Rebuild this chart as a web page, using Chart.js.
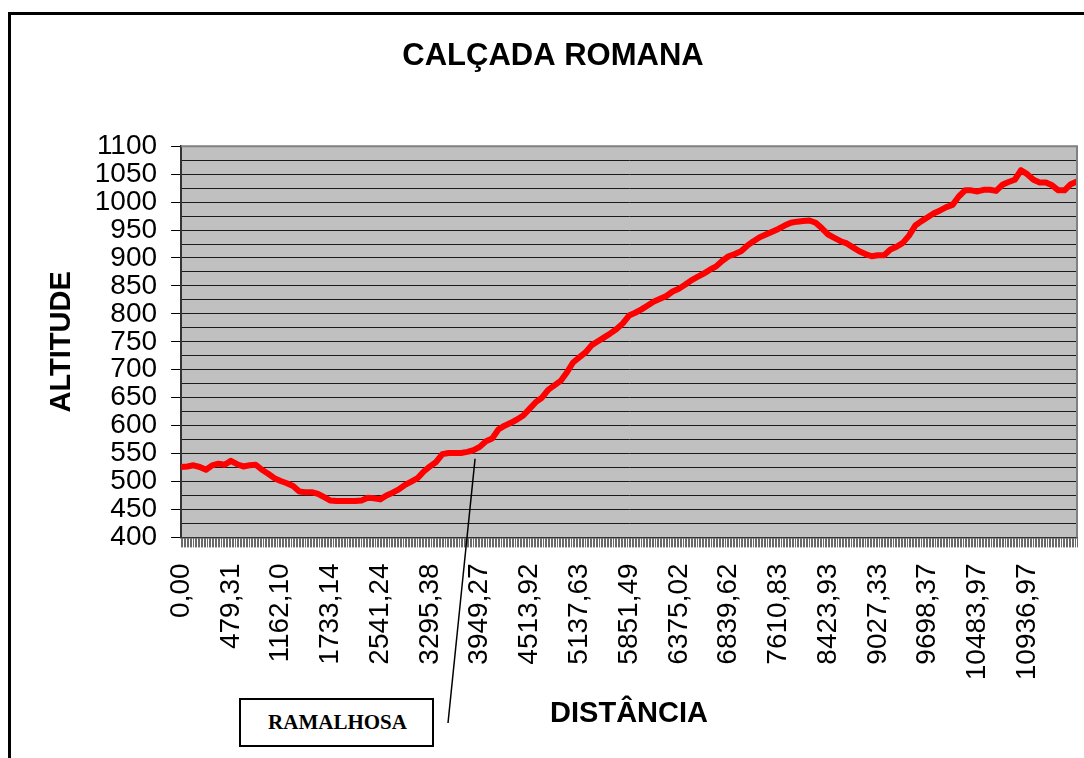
<!DOCTYPE html>
<html>
<head>
<meta charset="utf-8">
<script src="https://cdn.jsdelivr.net/npm/chart.js@4.4.1/dist/chart.umd.min.js"></script>
<style>
  html, body { margin: 0; padding: 0; background: #fff; overflow: hidden; }
  #frame { position: absolute; left: 8px; top: 12px; width: 1100px; height: 800px; border: 3px solid #000; }
  #wrap { position: absolute; left: 10px; top: 0; width: 1090px; height: 758px; }
  #ramalhosa {
    position: absolute; left: 239px; top: 698px; width: 189px; height: 45px;
    border: 2px solid #000; background: #fff;
    font: bold 21px "Liberation Serif", "Times New Roman", serif;
    display: flex; align-items: center; justify-content: center; padding-left: 2px;
  }
</style>
</head>
<body>
<div id="frame"></div>
<div id="wrap"><canvas id="chart"></canvas></div>
<div id="ramalhosa">RAMALHOSA</div>
<script>
// -------------------- Data --------------------
// distance labels shown under the axis, one every 32 points
const distLabels = ["0,00", "479,31", "1162,10", "1733,14", "2541,24", "3295,38", "3949,27",
  "4513,92", "5137,63", "5851,49", "6375,02", "6839,62", "7610,83", "8423,93", "9027,33",
  "9698,37", "10483,97", "10936,97"];
const pointsPerLabel = 32;
const lastPoint = 576;

// altitude, one reading every 4 points
const sampleStep = 4;
const altitude = [
  526, 527, 529, 526, 521, 529, 532, 530, 537, 531,
  527, 529, 530, 521, 514, 506, 501, 497, 492, 482,
  481, 481, 478, 472, 466, 465, 465, 465, 465, 466,
  471, 470, 468, 475, 480, 486, 494, 500, 506, 518,
  527, 535, 549, 551, 551, 551, 553, 556, 562, 572,
  577, 593, 600, 605, 611, 618, 630, 642, 650, 664,
  672, 680, 695, 713, 722, 731, 744, 751, 758, 765,
  773, 783, 797, 802, 808, 815, 822, 827, 832, 840,
  845, 852, 860, 866, 872, 879, 885, 895, 903, 907,
  912, 922, 930, 937, 942, 947, 952, 958, 963, 965,
  966, 967, 963, 953, 942, 936, 930, 926, 919, 912,
  907, 903, 905, 905, 915, 920, 927, 940, 958, 966,
  973, 980, 985, 991, 995, 1010, 1021, 1021, 1019, 1022,
  1022, 1020, 1031, 1036, 1040, 1057, 1050, 1040, 1035, 1035,
  1030, 1021, 1021, 1032, 1037];

// where the RAMALHOSA leader points to
const ramalhosa = { point: 189, alt: 555 };

const points = altitude.map((a, i) => ({ x: i * sampleStep, y: a }));

// -------------------- Plugins --------------------
const plotBack = {
  id: "plotBack",
  beforeDraw(chart) {
    const { ctx, chartArea: a } = chart;
    ctx.save();
    ctx.fillStyle = "#c0c0c0";
    ctx.fillRect(a.left, a.top, a.right - a.left, a.bottom - a.top);
    ctx.restore();
  },
  afterDatasetsDraw(chart) {
    const { ctx, chartArea: a } = chart;
    ctx.save();
    ctx.strokeStyle = "#808080";
    ctx.lineWidth = 2;
    ctx.beginPath();
    ctx.moveTo(a.left, a.top);
    ctx.lineTo(a.right, a.top);
    ctx.lineTo(a.right, a.bottom);
    ctx.stroke();
    // leader line for the RAMALHOSA note
    const x = chart.scales.x.getPixelForValue(ramalhosa.point);
    const y = chart.scales.y.getPixelForValue(ramalhosa.alt) + 8;
    ctx.strokeStyle = "#000";
    ctx.lineWidth = 1.5;
    ctx.beginPath();
    ctx.moveTo(x, y);
    ctx.lineTo(438, 723);
    ctx.stroke();
    ctx.restore();
  }
};

// -------------------- Chart --------------------
const font = '"Liberation Sans", Arial, sans-serif';
const ctx = document.getElementById("chart").getContext("2d");
new Chart(ctx, {
  type: "line",
  data: {
    datasets: [{
      data: points,
      borderColor: "#ff0000",
      borderWidth: 6,
      borderJoinStyle: "round",
      borderCapStyle: "round",
      pointRadius: 0,
      tension: 0,
    }],
  },
  options: {
    responsive: true,
    maintainAspectRatio: false,
    animation: false,
    layout: { padding: { left: 19, right: 23, top: 0, bottom: 10 } },
    plugins: {
      legend: { display: false },
      tooltip: { enabled: false },
      title: {
        display: true,
        text: "CALÇADA ROMANA",
        color: "#000",
        font: { family: font, size: 31, weight: "bold" },
        padding: { top: 38, bottom: 71 },
      },
    },
    scales: {
      x: {
        type: "linear",
        min: 0,
        max: lastPoint,
        afterFit: (s) => { s.paddingLeft = 0; s.paddingRight = 0; },
        grid: { drawOnChartArea: false, tickLength: 10, color: "#6a6a6a", lineWidth: 1 },
        border: { color: "#333", width: 1.5 },
        ticks: {
          stepSize: 1,
          autoSkip: false,
          minRotation: 90,
          maxRotation: 90,
          padding: 16,
          color: "#000",
          font: { family: font, size: 28 },
          callback: (v) => (v % pointsPerLabel === 0 ? (distLabels[v / pointsPerLabel] || "") : ""),
        },
        title: {
          display: true,
          text: "DISTÂNCIA",
          color: "#000",
          font: { family: font, size: 29, weight: "bold" },
          padding: { top: 0, bottom: 17 },
        },
      },
      y: {
        min: 400,
        max: 1100,
        afterFit: (s) => { s.paddingTop = 0; s.paddingBottom = 0; },
        grid: {
          color: (c) => (c.tick && c.tick.value === 1100 ? "#808080" : "#1a1a1a"),
          tickColor: (c) => (c.tick && c.tick.value % 50 === 0 ? "#000" : "rgba(0,0,0,0)"),
          tickLength: 10,
          lineWidth: 1,
        },
        border: { color: "#333", width: 2 },
        ticks: {
          stepSize: 25,
          autoSkip: false,
          padding: 14,
          color: "#000",
          font: { family: font, size: 28 },
          callback: (v) => (v % 50 === 0 ? v : ""),
        },
        title: {
          display: true,
          text: "ALTITUDE",
          color: "#000",
          font: { family: font, size: 29, weight: "bold" },
          padding: { top: 16, bottom: 1 },
        },
      },
    },
  },
  plugins: [plotBack],
});
</script>
</body>
</html>
